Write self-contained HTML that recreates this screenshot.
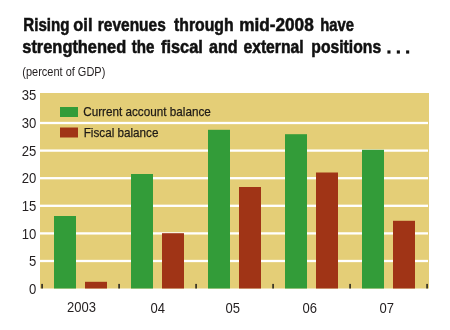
<!DOCTYPE html>
<html><head><meta charset="utf-8">
<style>
html,body{margin:0;padding:0;background:#fff;width:450px;height:330px;overflow:hidden}
svg{display:block;will-change:transform}
text{font-family:"Liberation Sans",sans-serif}
</style></head><body>
<svg width="450" height="330" viewBox="0 0 450 330">
<rect x="0" y="0" width="450" height="330" fill="#ffffff"/>
<!-- title -->
<g id="title" font-size="18.5" font-weight="bold" fill="#111" stroke="#111" stroke-width="0.55">
<text x="23.34" y="30.9" textLength="46.07" lengthAdjust="spacingAndGlyphs">Rising</text>
<text x="73.37" y="30.9" textLength="19.12" lengthAdjust="spacingAndGlyphs">oil</text>
<text x="97.8" y="30.9" textLength="67.98" lengthAdjust="spacingAndGlyphs">revenues</text>
<text x="174.04" y="30.9" textLength="59.58" lengthAdjust="spacingAndGlyphs">through</text>
<text x="239.22" y="30.9" textLength="74.53" lengthAdjust="spacingAndGlyphs">mid-2008</text>
<text x="320.33" y="30.9" textLength="33.75" lengthAdjust="spacingAndGlyphs">have</text>
<text x="22.29" y="53.4" textLength="103.87" lengthAdjust="spacingAndGlyphs">strengthened</text>
<text x="131.64" y="53.4" textLength="22.74" lengthAdjust="spacingAndGlyphs">the</text>
<text x="161.03" y="53.4" textLength="41.84" lengthAdjust="spacingAndGlyphs">fiscal</text>
<text x="209.01" y="53.4" textLength="28.67" lengthAdjust="spacingAndGlyphs">and</text>
<text x="243.41" y="53.4" textLength="60.29" lengthAdjust="spacingAndGlyphs">external</text>
<text x="311.29" y="53.4" textLength="69.89" lengthAdjust="spacingAndGlyphs">positions</text>
</g>
<g fill="#111">
<rect x="387.4" y="50.4" width="3.1" height="3.2"/>
<rect x="396.8" y="50.4" width="3.1" height="3.2"/>
<rect x="406.1" y="50.4" width="3.1" height="3.2"/>
</g>
<text x="22.3" y="75.9" font-size="13" fill="#231f20" textLength="83" lengthAdjust="spacingAndGlyphs">(percent of GDP)</text>
<!-- plot -->
<rect x="40" y="93" width="389" height="195.5" fill="#e4ce77"/>
<g fill="#ffffff">
<rect x="39" y="121.85" width="389" height="2.3"/>
<rect x="39" y="149.45" width="389" height="2.3"/>
<rect x="39" y="177.05" width="389" height="2.3"/>
<rect x="39" y="204.65" width="389" height="2.3"/>
<rect x="39" y="232.25" width="389" height="2.3"/>
<rect x="39" y="259.85" width="389" height="2.3"/>
</g>
<!-- legend -->
<rect x="60" y="107" width="18" height="10" fill="#339c39"/>
<rect x="60" y="127.5" width="18" height="10" fill="#a03416"/>
<text x="83.2" y="116.3" font-size="13.6" fill="#1e1a16" stroke="#1e1a16" stroke-width="0.25" textLength="127.6" lengthAdjust="spacingAndGlyphs">Current account balance</text>
<text x="83.7" y="137.2" font-size="13.6" fill="#1e1a16" stroke="#1e1a16" stroke-width="0.25" textLength="74.8" lengthAdjust="spacingAndGlyphs">Fiscal balance</text>
<!-- bars -->
<g fill="#339c39">
<rect x="54" y="216" width="22" height="72.5"/>
<rect x="131" y="174" width="22" height="114.5"/>
<rect x="208" y="129.8" width="22" height="158.7"/>
<rect x="285" y="134.2" width="22" height="154.3"/>
<rect x="362" y="149.8" width="22" height="138.7"/>
</g>
<g fill="#a03416">
<rect x="85" y="281.8" width="22" height="6.7"/>
<rect x="162" y="233.2" width="22" height="55.3"/>
<rect x="239" y="187" width="22" height="101.5"/>
<rect x="316" y="172.5" width="22" height="116"/>
<rect x="393" y="220.8" width="22" height="67.7"/>
</g>
<!-- ticks -->
<g fill="#3e3828">
<rect x="41.2" y="283.9" width="1.8" height="4.6"/>
<rect x="118.2" y="283.9" width="1.8" height="4.6"/>
<rect x="195.2" y="283.9" width="1.8" height="4.6"/>
<rect x="272.2" y="283.9" width="1.8" height="4.6"/>
<rect x="349.2" y="283.9" width="1.8" height="4.6"/>
<rect x="426.2" y="283.9" width="1.8" height="4.6"/>
</g>
<!-- y labels -->
<g font-size="14.5" fill="#231f20" text-anchor="end">
<text x="36.4" y="100.4" textLength="14.6" lengthAdjust="spacingAndGlyphs">35</text>
<text x="36.4" y="128.0" textLength="14.6" lengthAdjust="spacingAndGlyphs">30</text>
<text x="36.4" y="155.7" textLength="14.6" lengthAdjust="spacingAndGlyphs">25</text>
<text x="36.4" y="183.3" textLength="14.6" lengthAdjust="spacingAndGlyphs">20</text>
<text x="36.4" y="211.0" textLength="14.6" lengthAdjust="spacingAndGlyphs">15</text>
<text x="36.4" y="238.6" textLength="14.6" lengthAdjust="spacingAndGlyphs">10</text>
<text x="36.4" y="266.2" textLength="7.3" lengthAdjust="spacingAndGlyphs">5</text>
<text x="36.4" y="293.9" textLength="7.3" lengthAdjust="spacingAndGlyphs">0</text>
</g>
<!-- x labels -->
<g font-size="14.5" fill="#231f20">
<text x="67.1" y="312.1" textLength="29" lengthAdjust="spacingAndGlyphs">2003</text>
<text x="150.5" y="313.4" textLength="14.5" lengthAdjust="spacingAndGlyphs">04</text>
<text x="225.5" y="313.4" textLength="14.5" lengthAdjust="spacingAndGlyphs">05</text>
<text x="302.5" y="313.4" textLength="14.5" lengthAdjust="spacingAndGlyphs">06</text>
<text x="379.5" y="313.4" textLength="14.5" lengthAdjust="spacingAndGlyphs">07</text>
</g>
</svg>
</body></html>
